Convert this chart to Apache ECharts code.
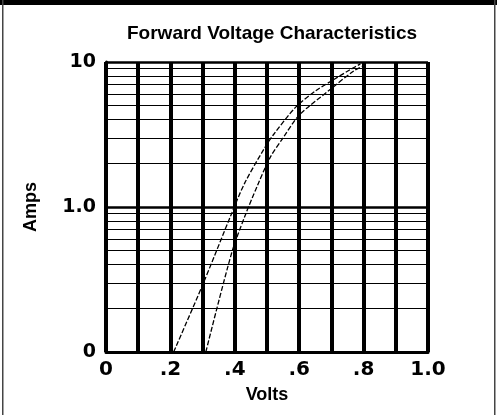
<!DOCTYPE html>
<html>
<head>
<meta charset="utf-8">
<script src="https://cdn.jsdelivr.net/npm/echarts@6/dist/echarts.min.js"></script>
<style>
  html, body { margin: 0; padding: 0; background: #fff; }
  #chart { width: 497px; height: 415px; }
</style>
</head>
<body>
<div id="chart"></div>
<script>
// forward voltage (V) vs current (A)
const lowCurve = [
  [0.21, 0.1], [0.30, 0.29], [0.39, 0.9], [0.43, 1.45], [0.49, 2.5],
  [0.52, 3.15], [0.59, 4.9], [0.65, 6.3], [0.70, 7.4], [0.76, 8.9],
  [0.79, 9.7]
];
const highCurve = [
  [0.31, 0.1], [0.39, 0.48], [0.43, 0.85], [0.47, 1.4], [0.51, 2.2],
  [0.55, 3.0], [0.60, 4.3], [0.69, 6.3], [0.77, 8.7], [0.80, 9.4]
];

const xTickLabels = ['0', '', '.2', '', '.4', '', '.6', '', '.8', '', '1.0'];
const yTickValues = [0.1, 1, 10];
const yTickLabels = ['0', '1.0', '10'];

const chart = echarts.init(document.getElementById('chart'));

const labelFont = {
  color: '#000',
  fontFamily: 'DejaVu Sans',
  fontWeight: 'bold',
  fontSize: 19
};
const nameFont = {
  color: '#000',
  fontFamily: 'Liberation Sans',
  fontWeight: 'bold',
  fontSize: 18
};

const curveStyle = { color: '#000', width: 1.3, type: [5, 2] };

chart.setOption({
  backgroundColor: '#fff',
  animation: false,
  title: {
    text: 'Forward Voltage Characteristics',
    left: 267,
    top: 19,
    textAlign: 'center',
    textStyle: { color: '#000', fontFamily: 'Liberation Sans', fontWeight: 'bold', fontSize: 19 }
  },
  grid: { left: 106, right: 69, top: 62, bottom: 63 },
  xAxis: {
    type: 'value',
    min: 0,
    max: 1,
    interval: 0.1,
    name: 'Volts',
    nameLocation: 'middle',
    nameGap: 34,
    nameTextStyle: nameFont,
    axisLine: { show: true, lineStyle: { color: '#000', width: 3 } },
    axisTick: { show: false },
    axisLabel: Object.assign({}, labelFont, {
      fontSize: 20,
      margin: 8,
      formatter: v => xTickLabels[Math.round(v * 10)]
    }),
    splitLine: { show: true, lineStyle: { color: '#000', width: 4 } }
  },
  yAxis: {
    type: 'log',
    logBase: 10,
    min: 0.1,
    max: 10,
    name: 'Amps',
    nameLocation: 'middle',
    nameRotate: 90,
    nameGap: 66,
    nameTextStyle: nameFont,
    axisLine: { show: true, lineStyle: { color: '#000', width: 3 } },
    axisTick: { show: false },
    axisLabel: Object.assign({}, labelFont, {
      margin: 10,
      formatter: v => {
        const i = yTickValues.findIndex(t => Math.abs(Math.log10(t) - Math.log10(v)) < 1e-6);
        return i < 0 ? '' : yTickLabels[i];
      }
    }),
    splitLine: { show: true, lineStyle: { color: '#000', width: 2.5 } },
    minorTick: { show: false, splitNumber: 9 },
    minorSplitLine: { show: true, lineStyle: { color: '#000', width: 1 } }
  },
  series: [
    {
      type: 'line',
      data: lowCurve,
      smooth: 0.3,
      showSymbol: false,
      lineStyle: curveStyle,
      z: 5
    },
    {
      type: 'line',
      data: highCurve,
      smooth: 0.3,
      showSymbol: false,
      lineStyle: curveStyle,
      z: 5
    }
  ],
  graphic: [
    { type: 'rect', shape: { x: 0, y: 0, width: 497, height: 5 }, style: { fill: '#000' } },
    { type: 'rect', shape: { x: 2, y: 0, width: 1.5, height: 415 }, style: { fill: '#444' } },
    { type: 'rect', shape: { x: 494, y: 0, width: 1.5, height: 415 }, style: { fill: '#444' } }
  ]
});
</script>
</body>
</html>
